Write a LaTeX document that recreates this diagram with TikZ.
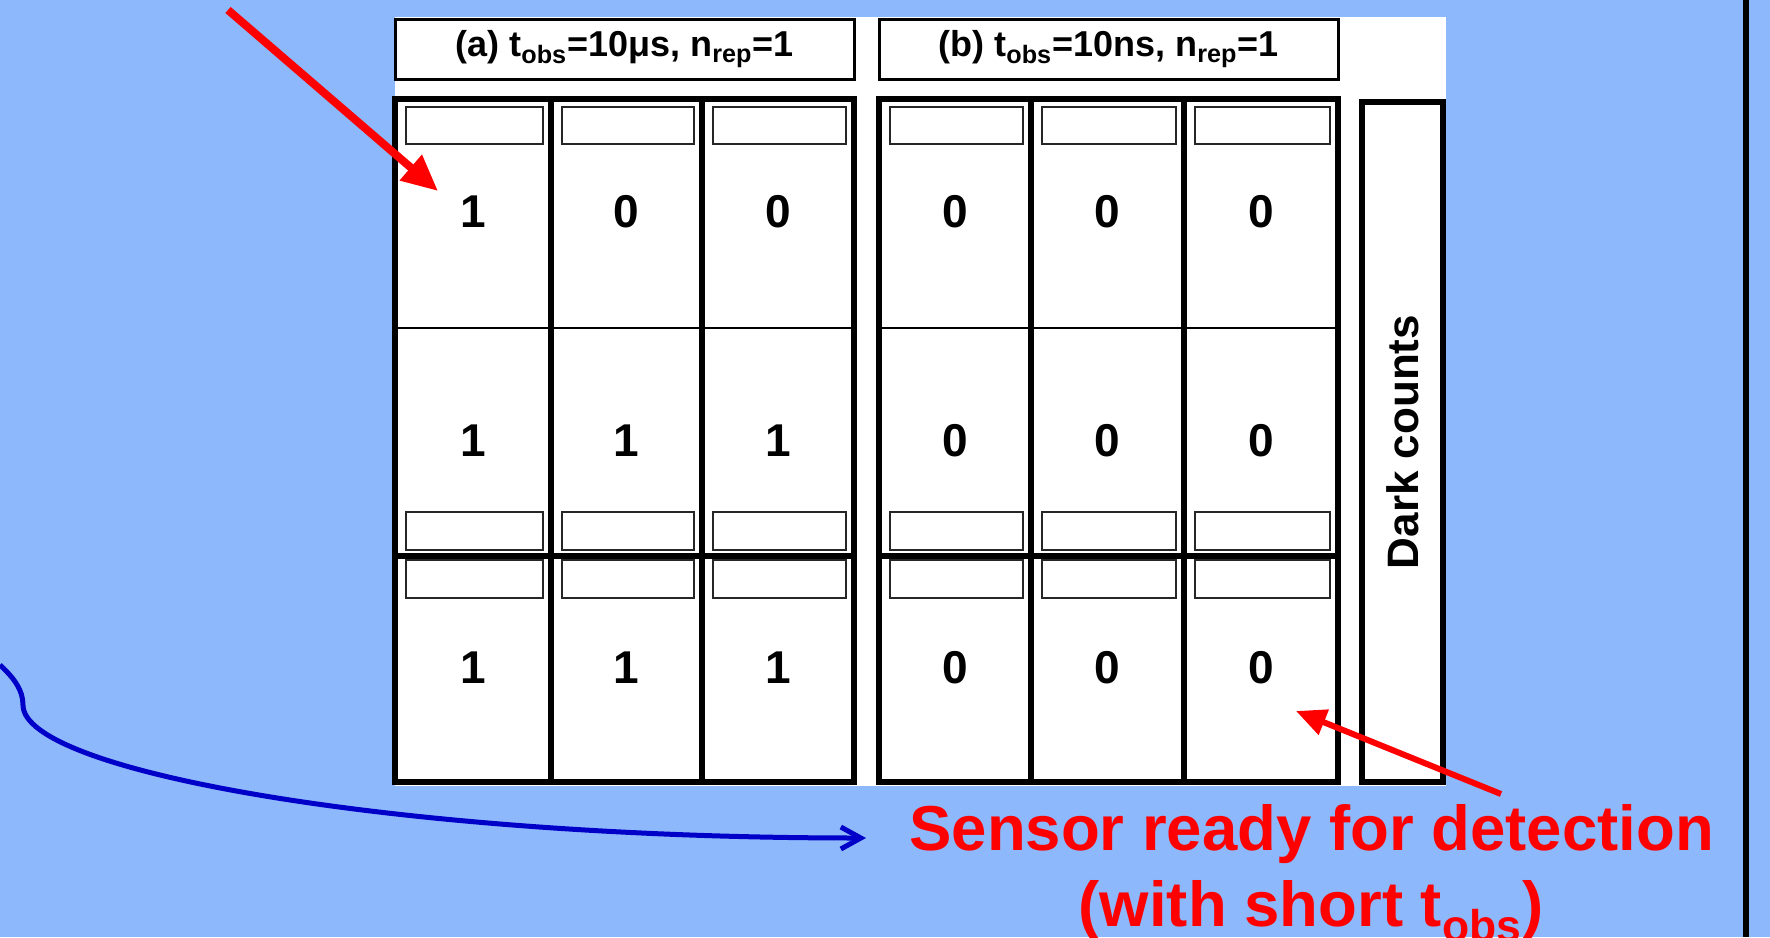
\documentclass[tikz,border=0pt]{standalone}
\usepackage{fontspec}
\setmainfont{Liberation Sans}
\usetikzlibrary{arrows.meta}
\definecolor{bgblue}{RGB}{141,184,252}
\definecolor{arrowred}{RGB}{255,0,0}
\definecolor{curveblue}{RGB}{0,0,200}
\begin{document}
\begin{tikzpicture}[x=0.5pt,y=-0.5pt,
  hdr/.style={draw=black,line width=1.5pt,fill=white,minimum width=229.5pt,minimum height=30pt,inner sep=0pt,font=\fontsize{18pt}{20pt}\selectfont\bfseries},
  num/.style={inner sep=0pt,font=\fontsize{23pt}{26pt}\selectfont\bfseries},
  slot/.style={draw=black!85,line width=1.4pt,fill=white},
  gridthick/.style={draw=black,line width=2.8pt},
  gridthin/.style={draw=black,line width=1.1pt},
  redarrow/.style={draw=arrowred,line width=4pt,-{Triangle[length=18pt,width=16pt]}},
  redarrowb/.style={draw=arrowred,line width=3pt,-{Triangle[length=15pt,width=13pt]}},
  bluecurve/.style={draw=curveblue,line width=2.5pt,-{Straight Barb[length=10pt,width=11pt,line width=2.5pt]}},
  redtext/.style={text=arrowred,inner sep=0pt,font=\fontsize{31.75pt}{36pt}\selectfont\bfseries}
]
\useasboundingbox (0,0) rectangle (1770,937);
\clip (0,0) rectangle (1770,937);
\fill[bgblue] (0,0) rectangle (1770,937);
% white panel
\fill[white] (395,17) rectangle (1446,786);
% headers
\node[hdr] (ha) at (624.5,49) {(a) t\textsubscript{obs}=10μs, n\textsubscript{rep}=1};
\node[hdr] (hb) at (1108.5,49) {(b) t\textsubscript{obs}=10ns, n\textsubscript{rep}=1};
% slots (cell left / right edges)
\foreach \xl/\xr in {395/551,551/702,702/854,879/1031,1031/1184,1184/1338}{
  \draw[slot] (\xl+11,107) rectangle (\xr-8,144);
  \draw[slot] (\xl+11,512) rectangle (\xr-8,550);
  \draw[slot] (\xl+11,560) rectangle (\xr-8,598);
}
% grids
\foreach \gx/\da/\db in {395/551/702,879/1031/1184}{
  \draw[gridthin] (\gx,328) -- (\gx+459,328);
  \draw[gridthick] (\gx,556) -- (\gx+459,556);
  \draw[gridthick] (\da,99) -- (\da,782);
  \draw[gridthick] (\db,99) -- (\db,782);
  \draw[gridthick] (\gx,99) rectangle (\gx+459,782);
}
% numbers
\node[num] (a11) at (473,212) {1};
\node[num] (a12) at (626.5,212) {0};
\node[num] (a13) at (778,212) {0};
\node[num] (a21) at (473,441) {1};
\node[num] (a22) at (626.5,441) {1};
\node[num] (a23) at (778,441) {1};
\node[num] (a31) at (473,668) {1};
\node[num] (a32) at (626.5,668) {1};
\node[num] (a33) at (778,668) {1};
\node[num] (b11) at (955,212) {0};
\node[num] (b12) at (1107.5,212) {0};
\node[num] (b13) at (1261,212) {0};
\node[num] (b21) at (955,441) {0};
\node[num] (b22) at (1107.5,441) {0};
\node[num] (b23) at (1261,441) {0};
\node[num] (b31) at (955,668) {0};
\node[num] (b32) at (1107.5,668) {0};
\node[num] (b33) at (1261,668) {0};
% dark counts
\node[draw=black,line width=2.6pt,fill=white,rotate=90,minimum width=340pt,minimum height=40.5pt,inner sep=0pt,font=\fontsize{22pt}{24pt}\selectfont\bfseries] (dark) at (1402.5,442) {Dark counts};
% right black line
\draw[line width=3pt] (1745.5,0) -- (1745.5,937);
% red texts
\node[redtext,anchor=base west] (sensor) at (909,850) {Sensor ready for detection};
\node[redtext,anchor=base] (short) at (1311,926) {(with short t\textsubscript{obs})};
% arrows
\coordinate (r1s) at (228,10);
\coordinate (r1t) at (438,191);
\draw[redarrow] (r1s) -- (r1t);
\coordinate (r2s) at (1501,794);
\coordinate (r2t) at (1296,711);
\draw[redarrowb] (r2s) -- (r2t);
\coordinate (c0) at (0,665);
\coordinate (c1) at (23,705);
\coordinate (c2) at (866,838);
\draw[bluecurve] (c0) .. controls (14,678) and (23,690) .. (c1) .. controls (23,772) and (400,838) .. (c2);
\end{tikzpicture}
\end{document}
